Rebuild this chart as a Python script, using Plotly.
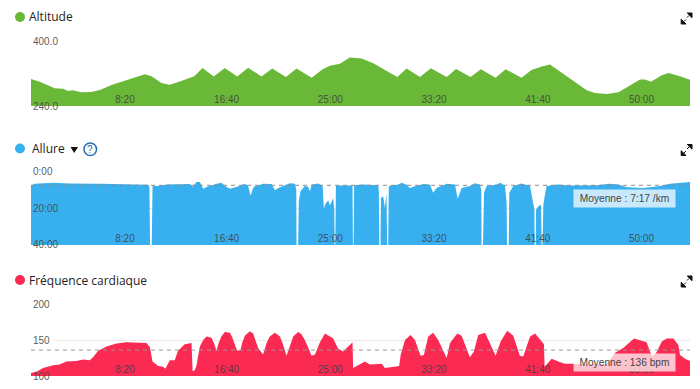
import plotly.graph_objects as go

W, H = 700, 389

alt_t = [47,89,161,202,226,247,290,338,379,435,596,628,676,716,764,834,874,928,981,1041,1094,1158,1210,1276,1327,1400,1453,1488,1536,1584,1641,1697,1745,1813,1858,1922,1975,2051,2096,2166,2216,2287,2335,2412,2460,2509,2549,2613,2678,2726,2766,2822,2879,2935,2983,3007,3036,3088,3120,3168,3224]
alt_v = [307,300,284,283,277,279,274,275,280,292,319,314,297,293,301,314,334,313,334,313,335,313,333,312,333,310,331,340,345,360.5,358,346,332,312,333,312,333.5,312,332,312,331,310,331,310,329,338,343,320,295,279,272,270,274,292,306,306,300,316,322,315,305]

pace_t = [47,65,154,234,379,539,612,618,621,629,633,660,700,813,826,845,861,877,896,941,965,982,1006,1041,1078,1094,1105,1121,1166,1207,1223,1239,1295,1319,1326,1327,1335,1338,1346,1367,1383,1392,1400,1432,1453,1459,1464,1480,1488,1504,1509,1511,1514,1517,1584,1597,1599,1602,1605,1649,1721,1724,1726,1732,1734,1745,1753,1761,1764,1769,1772,1818,1834,1858,1874,1890,1938,1970,1986,2002,2051,2091,2104,2123,2163,2187,2212,2218,2219,2226,2231,2244,2292,2311,2332,2340,2342,2350,2353,2372,2412,2453,2466,2474,2475,2480,2482,2493,2506,2509,2513,2517,2525,2533,2581,2645,2774,2838,2879,2919,2999,3080,3128,3224]
pace_v = [7.4,6.5,5.9,6.3,6.5,6.8,7.0,8.1,40,40,7.7,7.7,6.8,6.6,8.1,5.5,5.5,9.2,8.1,6.5,5.9,7.7,9.2,8.1,6.5,7.7,12.9,8.1,6.5,6.6,10,8.7,6.1,6.5,9.6,40,40,16,10.5,7.7,8.1,10.5,6.8,6.3,7.7,20.6,17.9,15.5,18.4,14.2,20.6,40,40,7.4,7.7,7.4,40,40,7.2,6.8,7.2,10.5,40,40,14.2,13.3,19.7,11.4,40,40,7.7,6.8,5.9,7.0,8.8,8.1,6.6,6.8,11.4,8.7,6.5,6.8,14.6,8.7,7.7,6.1,6.8,10.5,40,40,11.4,7.7,6.8,5.9,7.7,17,40,40,11.4,7.7,6.3,7.7,16,20.6,40,40,20.6,18.8,17.9,40,40,17.9,12.3,7.7,6.8,7.4,7.2,6.5,6.8,8.3,8.7,7.7,6.5,5.5]
pace_floor = [40] * len(pace_t)

hr_t = [47,73,105,154,185,218,266,298,330,346,371,411,459,507,604,620,633,660,684,695,716,740,756,788,821,826,837,845,861,877,893,917,929,941,953,965,981,1006,1018,1030,1041,1057,1066,1078,1102,1118,1130,1142,1166,1182,1198,1223,1247,1263,1279,1295,1311,1335,1351,1367,1384,1400,1416,1440,1464,1504,1528,1552,1584,1597,1600,1625,1657,1681,1738,1753,1822,1829,1850,1877,1898,1925,1941,1962,1986,2010,2030,2051,2067,2102,2123,2143,2163,2182,2203,2236,2260,2287,2311,2343,2372,2388,2404,2420,2453,2477,2520,2523,2557,2589,2621,2664,2710,2822,2862,2902,2954,3015,3031,3044,3063,3088,3112,3144,3168,3176,3200,3224]
hr_v = [104,106,111,115,116,120,121,123,122,126,135,141,145,147,146,140,120,114,113,110,122,122,135,144,146,107,108,115,141,150,155,153,146,135,147,155,161,160,153,143,135,136,147,156,162,159,150,139,130,145,155,160,155,143,128,143,155,161,158,150,138,128,130,147,159,152,138,134,143,147,111,115,120,116,117,111,114,129,150,157,150,128,129,155,160,150,137,125,146,159,156,141,126,134,157,160,146,128,148,163,156,141,128,127,155,159,144,113,124,120,117,117,116,117,132,139,152,147,134,127,133,148,152,152,143,129,124,121]

time_ticks = [500, 990, 1490, 1990, 2490, 2990]
time_labels = ["8:20", "16:40", "25:00", "33:20", "41:40", "50:00"]
alt_ticks, alt_labels = [240, 400], ["240.0", "400.0"]
pace_ticks, pace_labels = [0, 20, 40], ["0:00", "20:00", "40:00"]
hr_ticks, hr_labels = [100, 150, 200], ["100", "150", "200"]
pace_mean = 7.283
hr_mean = 136

GREEN, BLUE, RED = "#6ab838", "#38b0ef", "#fb2a53"
FONT = "Liberation Sans, Arial, sans-serif"
TFONT = "Open Sans, sans-serif"


def px(x):
    return x / W


def py(y):
    return 1 - y / H


fig = go.Figure()
no = dict(hoverinfo="skip", showlegend=False)
fig.add_trace(go.Scatter(x=alt_t, y=alt_v, mode="lines", fill="tozeroy", fillcolor=GREEN,
                         line=dict(width=0, color=GREEN), xaxis="x", yaxis="y", **no))
fig.add_trace(go.Scatter(x=pace_t, y=pace_floor, mode="lines", line=dict(width=0, color=BLUE),
                         xaxis="x2", yaxis="y2", **no))
fig.add_trace(go.Scatter(x=pace_t, y=pace_v, mode="lines", fill="tonexty", fillcolor=BLUE,
                         line=dict(width=0, color=BLUE), xaxis="x2", yaxis="y2", **no))
fig.add_trace(go.Scatter(x=[pace_t[0], pace_t[-1]], y=[pace_mean, pace_mean], mode="lines",
                         line=dict(width=1, color="#8a8a8a", dash="4px,4px"), xaxis="x2", yaxis="y2", **no))
fig.add_trace(go.Scatter(x=hr_t, y=hr_v, mode="lines", fill="tozeroy", fillcolor=RED,
                         line=dict(width=0, color=RED), xaxis="x3", yaxis="y3", **no))
fig.add_trace(go.Scatter(x=[hr_t[0], hr_t[-1]], y=[hr_mean, hr_mean], mode="lines",
                         line=dict(width=1, color="#999999", dash="4px,4px"), xaxis="x3", yaxis="y3", **no))

xbase = dict(range=[alt_t[0], alt_t[-1]], domain=[px(31), px(690)], tickmode="array",
             tickvals=time_ticks, ticktext=time_labels, ticklabelposition="inside",
             ticklabelstandoff=-2,
             ticklen=0, showgrid=False, zeroline=False, showline=False, fixedrange=True,
             tickfont=dict(family=FONT, size=10, color="rgba(60,60,60,0.85)"))
ybase = dict(tickmode="array", showticklabels=False, ticklen=0, showgrid=True,
             gridcolor="#e9e9e9", gridwidth=1, zeroline=False, showline=False, fixedrange=True)

fig.update_layout(
    width=W, height=H, margin=dict(l=0, r=0, t=0, b=0), autosize=False,
    paper_bgcolor="white", plot_bgcolor="white", showlegend=False,
    xaxis=dict(xbase, anchor="y"),
    xaxis2=dict(xbase, anchor="y2"),
    xaxis3=dict(xbase, anchor="y3"),
    yaxis=dict(ybase, anchor="x", domain=[py(106), py(41.5)], range=[240, 400], tickvals=alt_ticks),
    yaxis2=dict(ybase, anchor="x2", domain=[py(245), py(172)], range=[40, 0], tickvals=pace_ticks),
    yaxis3=dict(ybase, anchor="x3", domain=[py(376), py(304)], range=[100, 200], tickvals=hr_ticks),
)

shapes = []
annots = []

# y tick labels, left-aligned inside the plot over the fill
for yr, vals, labels in [("y", alt_ticks, alt_labels), ("y2", pace_ticks, pace_labels), ("y3", hr_ticks, hr_labels)]:
    for v, lab in zip(vals, labels):
        annots.append(dict(xref="paper", yref=yr, x=px(30.5), y=v, xanchor="left", yanchor="middle",
                           text=lab, showarrow=False,
                           font=dict(family=FONT, size=10, color="rgba(70,70,70,0.9)")))

# white masks so gridlines start after the tick labels
t0 = alt_t[0]
for xr, yr, val, w, span in [("x", "y", 400, 140, 6), ("x2", "y2", 0, 110, 0.6),
                             ("x3", "y3", 200, 110, 3), ("x3", "y3", 150, 110, 3)]:
    shapes.append(dict(type="rect", xref=xr, yref=yr, x0=t0, x1=t0 + w, y0=val - span, y1=val + span,
                       fillcolor="white", line_width=0, layer="between"))

# title dots, titles and expand icons
for yc, color, title, tx in [(17, GREEN, "Altitude", 27), (148.5, BLUE, "Allure", 30),
                             (280, RED, "Fréquence cardiaque", 27)]:
    shapes.append(dict(type="circle", xref="paper", yref="paper", x0=px(15), x1=px(25),
                       y0=py(yc + 5), y1=py(yc - 5), fillcolor=color, line_width=0))
    annots.append(dict(xref="paper", yref="paper", x=px(tx), y=py(yc), xanchor="left", yanchor="middle",
                       text=title, showarrow=False, font=dict(family=TFONT, size=12, color="#222222")))
    ic = yc + 1.5
    path = (f"M{px(687.3)},{py(ic-5.5)} L{px(692)},{py(ic-5.5)} L{px(692)},{py(ic-0.8)} Z "
            f"M{px(681.2)},{py(ic+0.8)} L{px(681.2)},{py(ic+5.5)} L{px(686)},{py(ic+5.5)} Z "
            f"M{px(689)},{py(ic-3)} L{px(687)},{py(ic-1)} M{px(684)},{py(ic+3)} L{px(686)},{py(ic+1)}")
    shapes.append(dict(type="path", xref="paper", yref="paper", path=path, fillcolor="#111111",
                       line=dict(color="#111111", width=1)))

# dropdown triangle and help icon
shapes.append(dict(type="path", xref="paper", yref="paper",
                   path=f"M{px(70.5)},{py(147)} L{px(78)},{py(147)} L{px(74.2)},{py(153)} Z",
                   fillcolor="#111111", line_width=0))
shapes.append(dict(type="circle", xref="paper", yref="paper", x0=px(84), x1=px(96.5),
                   y0=py(155.5), y1=py(143), line=dict(color="#2a6eb0", width=1.5)))
annots.append(dict(xref="paper", yref="paper", x=px(90.2), y=py(149.3), xanchor="center", yanchor="middle",
                   text="?", showarrow=False, font=dict(family=FONT, size=10, color="#2a6eb0")))

# mean labels
for text, yc in [("Moyenne : 7:17 /km", 198), ("Moyenne : 136 bpm", 362)]:
    annots.append(dict(xref="paper", yref="paper", x=px(624.5), y=py(yc), xanchor="center", yanchor="middle",
                       text=text, showarrow=False, width=101, height=17, borderpad=0,
                       bgcolor="rgba(255,255,255,0.72)",
                       font=dict(family=FONT, size=10.2, color="#444444")))

fig.update_layout(shapes=shapes, annotations=annots)
fig.write_html("out.html", config={"displayModeBar": False},
               post_script="document.body.style.margin='0';document.body.style.overflow='hidden';")
